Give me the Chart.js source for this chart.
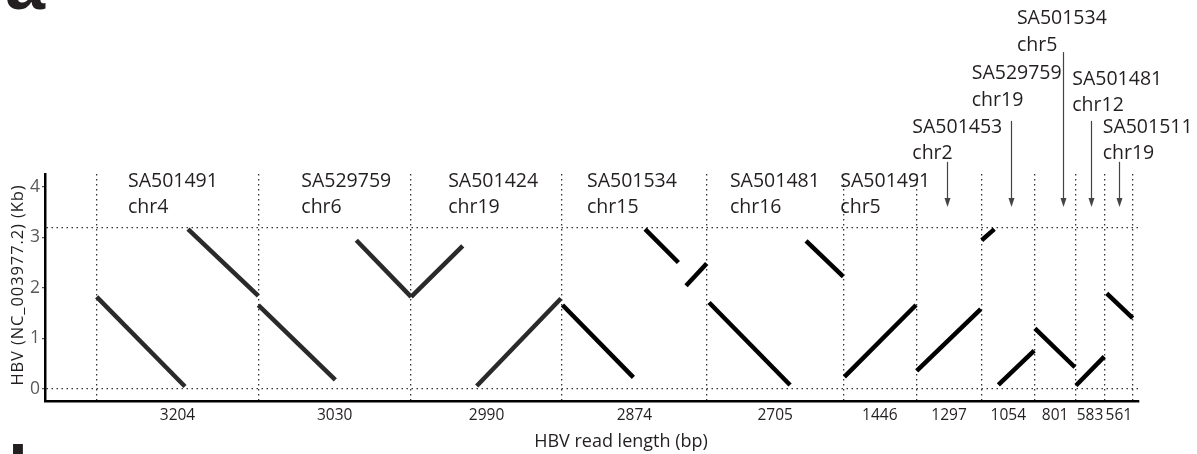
<!DOCTYPE html>
<html><head><meta charset="utf-8">
<script src="https://cdn.jsdelivr.net/npm/chart.js@4.4.1/dist/chart.umd.min.js"></script>
<style>html,body{margin:0;padding:0;background:#fff;overflow:hidden}</style>
</head><body>
<canvas id="c" width="1197" height="454"></canvas>
<script>
// ---------------- DATA ----------------
const readLengths = [3204, 3030, 2990, 2874, 2705, 1446, 1297, 1054, 801, 583, 561];
const sampleIds   = ['SA501491','SA529759','SA501424','SA501534','SA501481','SA501491','SA501453','SA529759','SA501534','SA501481','SA501511'];
const chromosomes = ['chr4','chr6','chr19','chr15','chr16','chr5','chr2','chr19','chr5','chr12','chr19'];
// aligned segments per read: [read pos start (bp), HBV start (Kb), read pos end (bp), HBV end (Kb)]
const read1Segments  = [[0, 1.82, 1750, 0.05], [1810, 3.16, 3204, 1.84]];
const read2Segments  = [[0, 1.66, 1527, 0.18], [1943, 2.94, 3030, 1.82]];
const read3Segments  = [[0, 1.82, 1023, 2.83], [1300, 0.06, 2970, 1.79]];
const read4Segments  = [[10, 1.66, 1416, 0.23], [1648, 3.16, 2308, 2.50], [2460, 2.04, 2870, 2.48]];
const read5Segments  = [[42, 1.71, 1648, 0.08], [1965, 2.93, 2704, 2.22]];
const read6Segments  = [[20, 0.24, 1440, 1.66]];
const read7Segments  = [[8, 0.36, 1277, 1.58]];
const read8Segments  = [[0, 2.94, 250, 3.16], [330, 0.08, 1040, 0.76]];
const read9Segments  = [[0, 1.20, 793, 0.43]];
const read10Segments = [[14, 0.07, 575, 0.64]];
const read11Segments = [[40, 1.89, 555, 1.40]];
const readSegments = [read1Segments, read2Segments, read3Segments, read4Segments, read5Segments,
  read6Segments, read7Segments, read8Segments, read9Segments, read10Segments, read11Segments];
const yTickValues = [0, 1, 2, 3, 4];
const genomeLineKb = 3.18;
const xTitle = 'HBV read length (bp)';
const yTitle = 'HBV (NC_003977.2) (Kb)';

// ---------------- LAYOUT (positions, not data) ----------------
const labelOffsetBp   = [620, 852, 734, 496, 456, -60, -79, -198, -357, -60, -40];
const labelBaselineKb = [4.0, 4.0, 4.0, 4.0, 4.0, 4.0, 5.07, 6.12, 7.21, 6.01, 5.07];
const arrowReadIdx    = [6, 7, 8, 9, 10];
const arrowOffsetBp   = [608, 580, 557, 311, 283];
const arrowStartKb    = [4.49, 5.30, 6.66, 5.30, 4.49];
const arrowEndKb      = 3.6;

// ---------------- BUILD ----------------
const starts = []; let acc = 0;
readLengths.forEach(l => { starts.push(acc); acc += l; });
const boundaries = starts.concat([acc]);
const centers = readLengths.map((l, i) => starts[i] + l / 2);
const FONT = "'Open Sans', 'Noto Sans', sans-serif";
const INK = '#231f20';

const datasets = [];
readSegments.forEach((segs, i) => {
  segs.forEach(s => {
    datasets.push({
      data: [{x: starts[i] + s[0], y: s[1]}, {x: starts[i] + s[2], y: s[3]}],
      showLine: true, pointRadius: 0, borderWidth: 4.5,
      borderColor: i < 3 ? '#2a2a2a' : '#000000', borderCapStyle: 'butt'
    });
  });
});

const xTicks = boundaries.concat(centers).sort((a, b) => a - b);
const yTicksAll = yTickValues.concat([genomeLineKb]).sort((a, b) => a - b);

const overlay = {
  id: 'overlay',
  afterDraw(chart) {
    const {ctx, scales: {x, y}, chartArea} = chart;
    ctx.save();
    // read labels
    ctx.font = '19.5px ' + FONT;
    ctx.fillStyle = INK;
    ctx.textAlign = 'left';
    ctx.textBaseline = 'alphabetic';
    readLengths.forEach((len, i) => {
      const lx = x.getPixelForValue(starts[i] + labelOffsetBp[i]);
      const ly = y.getPixelForValue(labelBaselineKb[i]);
      ctx.fillText(sampleIds[i], lx, ly);
      ctx.fillText(chromosomes[i], lx, ly + 26.3);
    });
    // arrows
    ctx.strokeStyle = '#444'; ctx.fillStyle = '#444'; ctx.lineWidth = 1.2;
    arrowReadIdx.forEach((ri, k) => {
      const ax = Math.round(x.getPixelForValue(starts[ri] + arrowOffsetBp[k])) + 0.5;
      const y0 = y.getPixelForValue(arrowStartKb[k]);
      const y1 = y.getPixelForValue(arrowEndKb);
      ctx.beginPath(); ctx.moveTo(ax, y0); ctx.lineTo(ax, y1 - 8); ctx.stroke();
      ctx.beginPath(); ctx.moveTo(ax - 3, y1 - 9); ctx.lineTo(ax + 3, y1 - 9); ctx.lineTo(ax, y1); ctx.closePath(); ctx.fill();
    });
    // x title
    ctx.fillStyle = INK;
    ctx.font = '18px ' + FONT;
    ctx.textAlign = 'center';
    ctx.fillText(xTitle, (chartArea.left + chartArea.right) / 2 + 29, 447);
    // y title
    ctx.save();
    ctx.translate(18.5, 285);
    ctx.rotate(-Math.PI / 2);
    ctx.font = '16.5px ' + FONT;
    if ('letterSpacing' in ctx) ctx.letterSpacing = '0.9px';
    ctx.textBaseline = 'middle';
    ctx.fillText(yTitle, 0, 0);
    ctx.restore();
    // panel letters
    ctx.font = 'bold 72px "Liberation Sans", Arial, sans-serif';
    ctx.textAlign = 'left';
    ctx.fillText('a', 5, 9);
    ctx.fillText('b', 8, 497);
    ctx.restore();
  }
};

new Chart(document.getElementById('c'), {
  type: 'scatter',
  data: { datasets },
  plugins: [overlay],
  options: {
    responsive: false, animation: false, devicePixelRatio: 1,
    layout: { padding: { top: 174, right: 58, left: 0, bottom: 0 } },
    plugins: { legend: { display: false }, tooltip: { enabled: false } },
    scales: {
      x: {
        type: 'linear', min: -1025, max: 20664,
        afterBuildTicks: s => { s.ticks = xTicks.map(v => ({value: v})); },
        afterFit: s => { s.height = 53; },
        ticks: {
          autoSkip: false, maxRotation: 0, minRotation: 0, padding: 5,
          color: INK, font: { family: FONT, size: 15.5 },
          callback: v => { const i = centers.indexOf(v); return i >= 0 ? String(readLengths[i]) : ''; }
        },
        grid: {
          drawTicks: false, lineWidth: 1.3,
          color: c => (c.tick && boundaries.includes(c.tick.value)) ? '#333' : 'rgba(0,0,0,0)'
        },
        border: { display: true, color: '#000', width: 2.5, dash: [1.5, 3.5] },
        title: { display: false }
      },
      y: {
        type: 'linear', min: -0.237, max: 4.25,
        afterBuildTicks: s => { s.ticks = yTicksAll.map(v => ({value: v})); },
        afterFit: s => { s.width = 45; },
        ticks: {
          padding: 2, color: '#58595b', font: { family: FONT, size: 17.5 },
          callback: v => yTickValues.includes(v) ? String(v) : ''
        },
        grid: {
          drawTicks: true, tickLength: 3, lineWidth: 1.3,
          color: c => (c.tick && (c.tick.value === 0 || c.tick.value === genomeLineKb)) ? '#333' : 'rgba(0,0,0,0)',
          tickColor: c => (c.tick && yTickValues.includes(c.tick.value)) ? '#58595b' : 'rgba(0,0,0,0)'
        },
        border: { display: true, color: '#000', width: 2.5, dash: [1.5, 3.5] },
        title: { display: false }
      }
    }
  }
});
</script>
</body></html>
